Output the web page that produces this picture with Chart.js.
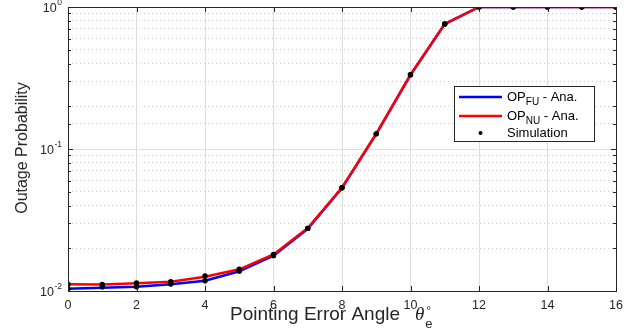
<!DOCTYPE html>
<html><head><meta charset="utf-8">
<script src="https://cdn.jsdelivr.net/npm/chart.js@4"></script>
<style>html,body{margin:0;padding:0;background:#fff}canvas{display:block}</style>
</head><body>
<canvas id="c" width="641" height="336"></canvas>
<script>
const angles = [0,1,2,3,4,5,6,7,8,9,10,11,12,13,14,15,16];
const opFU = [0.01038,0.01055,0.01072,0.01115,0.01182,0.01376,0.01774,0.0274,0.0531,0.1276,0.332,0.759,1,1,1,1,1];
const opNU = [0.01115,0.0111,0.01133,0.01163,0.01261,0.01422,0.0181,0.0278,0.0535,0.128,0.334,0.76,1,1,1,1,1];
const simFU = [0.01038,0.01065,0.01072,0.01120,0.01182,0.01380,0.01774,0.0276,0.0533,0.1278,0.333,0.759,1,1,1,1,1];
const simNU = [0.01115,0.0111,0.01140,0.01163,0.01275,0.01422,0.0181,0.0276,0.0533,0.1278,0.333,0.759,1,1,1,1,1];
const yTickLabels = [[1,"10","0"],[0.1,"10","-1"],[0.01,"10","-2"]];
const legendItems = [["OP","FU"," - Ana."],["OP","NU"," - Ana."],["Simulation","",""]];

const AX = '#262626';
const FONT = '"Liberation Sans", Arial, sans-serif';
const pts = arr => angles.map((a,i)=>({x:a,y:arr[i]}));
const isDecade = v => Math.abs(Math.log10(v) - Math.round(Math.log10(v))) < 1e-6;

const deco = {
  id:'deco',
  afterDraw(chart){
    const ctx = chart.ctx, a = chart.chartArea, xs = chart.scales.x, ys = chart.scales.y;
    ctx.save();
    // box
    ctx.strokeStyle = AX; ctx.lineWidth = 1;
    ctx.strokeRect(Math.round(a.left)+0.5, Math.round(a.top)+0.5, Math.round(a.right-a.left), Math.round(a.bottom-a.top));
    // inward ticks
    ctx.beginPath();
    xs.ticks.forEach(t=>{
      const px = Math.round(xs.getPixelForValue(t.value))+0.5;
      ctx.moveTo(px,a.bottom); ctx.lineTo(px,a.bottom-5);
      ctx.moveTo(px,a.top); ctx.lineTo(px,a.top+5);
    });
    ys.ticks.forEach(t=>{
      const py = Math.round(ys.getPixelForValue(t.value))+0.5;
      const L = isDecade(t.value)?5:3;
      ctx.moveTo(a.left,py); ctx.lineTo(a.left+L,py);
      ctx.moveTo(a.right,py); ctx.lineTo(a.right-L,py);
    });
    ctx.stroke();
    // y tick labels (with superscript exponent)
    ctx.fillStyle = AX; ctx.textBaseline='middle';
    yTickLabels.forEach(([v,base,exp])=>{
      const py = ys.getPixelForValue(v);
      ctx.font = '8.5px '+FONT; ctx.textAlign='right';
      const we = ctx.measureText(exp).width;
      const right = a.left - 6;
      ctx.fillText(exp, right, py-4);
      ctx.font = '12.5px '+FONT;
      ctx.fillText(base, right - we - 0.5, py+1.5);
    });
    // y title
    ctx.fillStyle = AX;
    ctx.font = '16px '+FONT;
    ctx.textAlign='center'; ctx.textBaseline='middle';
    ctx.save(); ctx.translate(23,148); ctx.rotate(-Math.PI/2);
    ctx.fillText('Outage Probability',0,0); ctx.restore();
    // x title
    ctx.font = '19px '+FONT; ctx.textAlign='left'; ctx.textBaseline='alphabetic';
    const t1 = 'Pointing Error Angle ';
    const w1 = ctx.measureText(t1).width;
    const x0 = 230, by = 320;
    ctx.fillText(t1,x0,by);
    ctx.font = 'italic 19px "Liberation Serif", serif';
    const xth = Math.max(x0+w1+3, 415);
    const wth = ctx.measureText('\u03B8').width;
    ctx.fillText('\u03B8',xth,by);
    ctx.font = '13px '+FONT; ctx.fillText('e',xth+wth+1,by+8);
    ctx.font = '12px '+FONT; ctx.fillText('\u00B0',xth+wth+2,by-5);
    // legend
    const lx=454, ly=86, lw=140, lh=55;
    ctx.fillStyle='#fff'; ctx.fillRect(lx,ly,lw,lh);
    ctx.strokeStyle=AX; ctx.lineWidth=1; ctx.strokeRect(lx+0.5,ly+0.5,lw,lh);
    const rows=[97,116,133], cols=['#0000ff','#ff0000',null];
    legendItems.forEach((it,i)=>{
      const y=rows[i];
      if(cols[i]){ ctx.strokeStyle=cols[i]; ctx.lineWidth=2.5; ctx.beginPath(); ctx.moveTo(459,y); ctx.lineTo(502,y); ctx.stroke(); }
      else { ctx.fillStyle='#000'; ctx.beginPath(); ctx.arc(480.5,y,2,0,Math.PI*2); ctx.fill(); }
      ctx.fillStyle='#000'; ctx.textBaseline='middle'; ctx.textAlign='left';
      let x=507;
      ctx.font='13px '+FONT; ctx.fillText(it[0],x,y); x+=ctx.measureText(it[0]).width;
      if(it[1]){ ctx.font='10px '+FONT; ctx.fillText(it[1],x,y+5); x+=ctx.measureText(it[1]).width; }
      if(it[2]){ ctx.font='13px '+FONT; ctx.fillText(it[2],x,y); }
    });
    ctx.restore();
  }
};

new Chart(document.getElementById('c'),{
  type:'line',
  data:{datasets:[
    {label:'Simulation',data:pts(simNU),showLine:false,pointRadius:2.7,pointBackgroundColor:'#000',pointBorderColor:'#000',pointBorderWidth:0},
    {label:'Simulation',data:pts(simFU),showLine:false,pointRadius:2.7,pointBackgroundColor:'#000',pointBorderColor:'#000',pointBorderWidth:0},
    {label:'OP_NU - Ana.',data:pts(opNU),borderColor:'#ff0000',borderWidth:2.5,pointRadius:0,tension:0,fill:false},
    {label:'OP_FU - Ana.',data:pts(opFU),borderColor:'#0000ff',borderWidth:2.5,pointRadius:0,tension:0,fill:false}
  ]},
  options:{
    responsive:false, animation:false, events:[],
    layout:{padding:{left:0,right:25,top:7,bottom:0}},
    plugins:{legend:{display:false},tooltip:{enabled:false}},
    scales:{
      x:{type:'linear',min:0,max:16,
        afterFit:s=>{s.height=45;},
        ticks:{stepSize:2,padding:7,color:AX,font:{family:FONT,size:12.5},maxRotation:0},
        grid:{drawTicks:false,color:'#dedede',lineWidth:1},
        border:{display:false}},
      y:{type:'logarithmic',min:0.01,max:1,
        afterFit:s=>{s.width=68;},
        ticks:{display:false,autoSkip:false},
        grid:{drawTicks:false,lineWidth:1,
          color:c=> (c.tick && isDecade(c.tick.value)) ? '#dedede' : '#cdcdcd'},
        border:{display:false,dash:c=> (c.tick && isDecade(c.tick.value)) ? [] : [1,3]}}
    }
  },
  plugins:[deco]
});
</script>
</body></html>
